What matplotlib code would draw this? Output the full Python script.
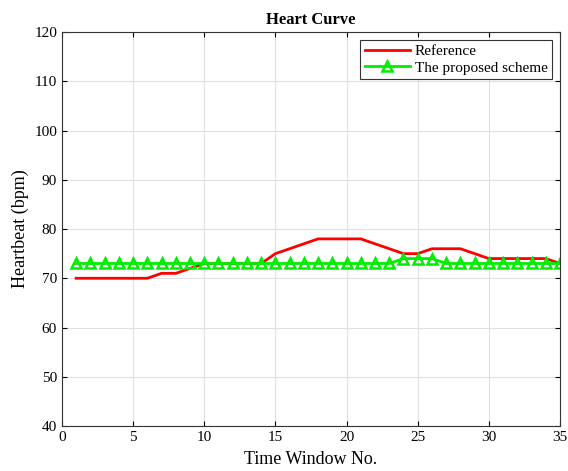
import matplotlib.pyplot as plt
import numpy as np

# data
window = np.arange(1, 36)
reference = [70, 70, 70, 70, 70, 70, 71, 71, 72, 73,
             73, 73, 73, 73, 75, 76, 77, 78, 78, 78,
             78, 77, 76, 75, 75, 76, 76, 76, 75, 74,
             74, 74, 74, 74, 73]
proposed = [73] * 23 + [74, 74, 74] + [73] * 9

plt.rcParams['font.family'] = ['Liberation Serif', 'DejaVu Serif']

fig = plt.figure(figsize=(5.68, 4.71), dpi=100)
ax = fig.add_axes([0.109, 0.0955, 0.877, 0.8365])

ax.plot(window, reference, color='red', lw=2, label='Reference')
ax.plot(window, proposed, color='#00ee00', lw=2, marker='^', markersize=7,
        markerfacecolor='none', markeredgewidth=1.8, label='The proposed scheme')

ax.set_xlim(0, 35)
ax.set_ylim(40, 120)
ax.set_xticks(range(0, 36, 5))
ax.set_yticks(range(40, 121, 10))
ax.tick_params(direction='in', labelsize=11, top=True, right=True)
ax.grid(True, color='#e0e0e0', lw=0.8)
for s in ax.spines.values():
    s.set_color('#333333')

ax.set_title('Heart Curve', fontsize=12, fontweight='bold', pad=6)
ax.set_xlabel('Time Window No.', fontsize=13, labelpad=5)
ax.set_ylabel('Heartbeat (bpm)', fontsize=13)

leg = ax.legend(loc='upper right', fontsize=11, fancybox=False, framealpha=1,
                edgecolor='#333333', handlelength=3, borderpad=0.3,
                labelspacing=0.2, handletextpad=0.3)
leg.get_frame().set_linewidth(0.8)

fig.savefig('out.png', dpi=100)
